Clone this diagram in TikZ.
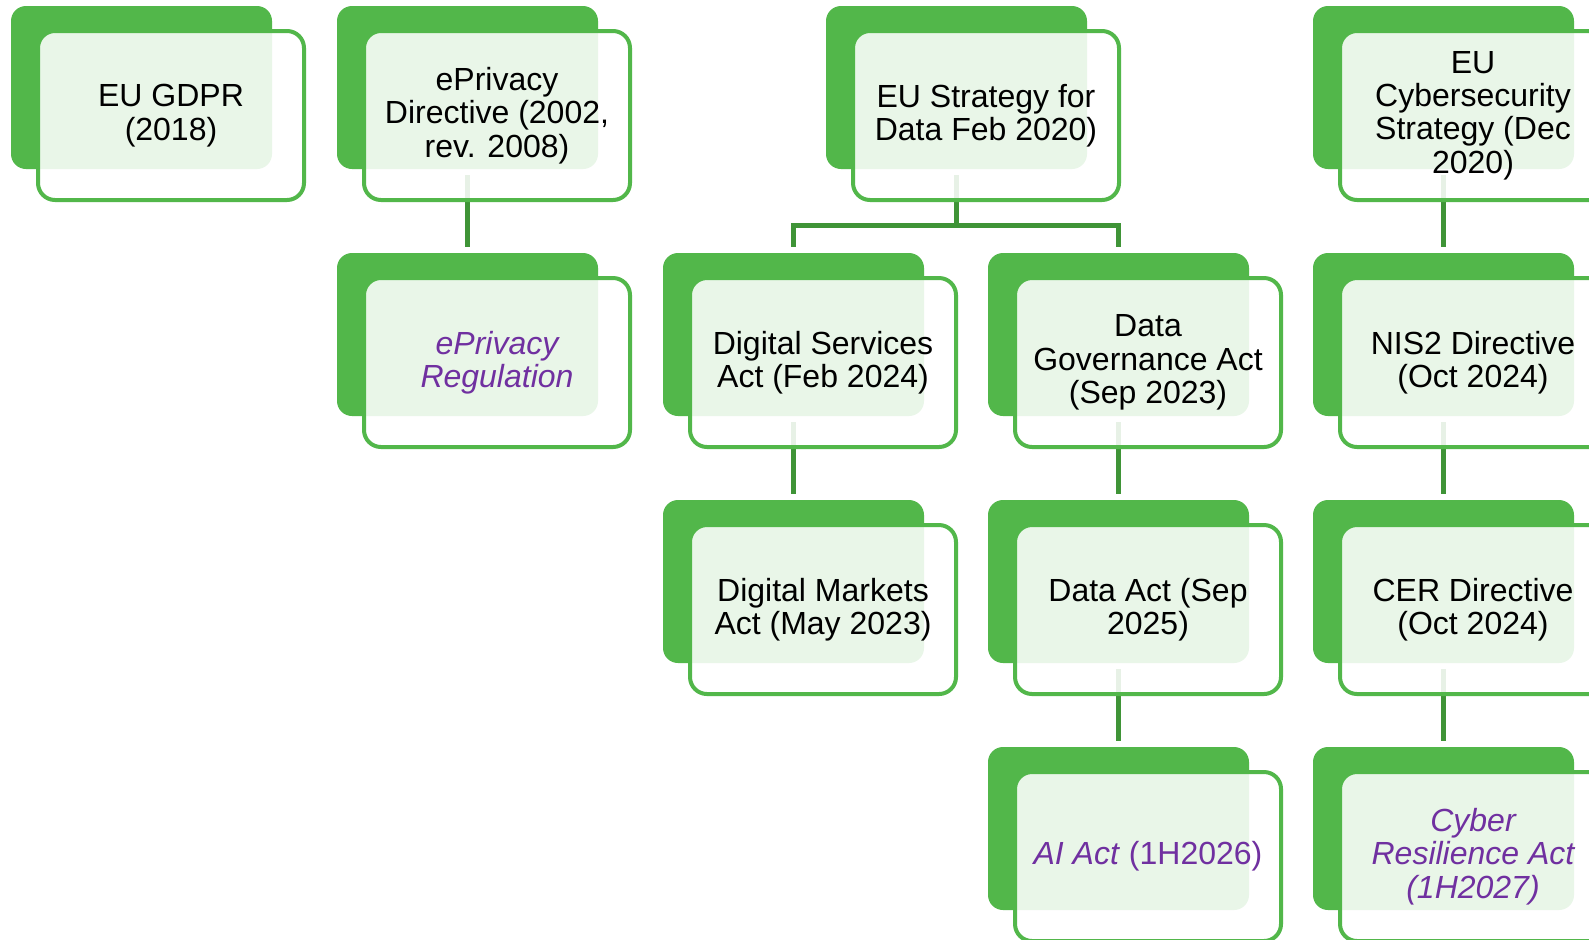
\documentclass[tikz,border=0pt]{standalone}
\usepackage{fontspec}
\setmainfont{Liberation Sans}
\usepackage{xcolor}
\usepackage{tikz}
\usetikzlibrary{positioning, calc}

\definecolor{cardgreen}{HTML}{52B74A}
\definecolor{linkgreen}{HTML}{3F9437}
\definecolor{plannedpurple}{HTML}{7030A0}

\begin{document}
\begin{tikzpicture}[
    x=0.5pt, y=-0.5pt,
    backcard/.style={rectangle, rounded corners=7.5pt, fill=cardgreen, outer sep=0pt,
                     minimum width=130.5pt, minimum height=81.5pt, anchor=north west},
    card/.style={rectangle, rounded corners=8.5pt, draw=cardgreen, line width=2pt,
                 fill=white, fill opacity=0.88, text opacity=1,
                 minimum width=133pt, minimum height=84.5pt, align=center,
                 font=\fontsize{16pt}{16.7pt}\selectfont},
    planned/.style={text=plannedpurple, font=\fontsize{16pt}{16.7pt}\selectfont\itshape},
    link/.style={draw=linkgreen, line width=2.5pt, shorten <=3pt, shorten >=3pt}
]
\clip (0,0) rectangle (1589,939);
\fill[white] (0,0) rectangle (1589,939);

% back cards
\foreach \nm/\x/\y in {gdpr/11/6, eprivdir/337/6, strat/826/6, cyber/1313/6,
                       eprivreg/337/253, dsa/663/253, dga/988/253, nis/1313/253,
                       dma/663/500, dact/988/500, cer/1313/500,
                       aiact/988/747, cra/1313/747} {
    \node[backcard] (\nm-bk) at (\x,\y) {};
}

% connectors, under the front cards
\draw[link] (eprivdir-bk.south) -- (eprivreg-bk.north);
\draw[link, shorten >=0pt] (strat-bk.south) -- ++(0,56) coordinate (split);
\draw[link, shorten <=0pt] (split) -| (dsa-bk.north);
\draw[link, shorten <=0pt] (split) -| (dga-bk.north);
\draw[link] (cyber-bk.south) -- (nis-bk.north);
\draw[link] (dsa-bk.south) -- (dma-bk.north);
\draw[link] (dga-bk.south) -- (dact-bk.north);
\draw[link] (dact-bk.south) -- (aiact-bk.north);
\draw[link] (nis-bk.south) -- (cer-bk.north);
\draw[link] (cer-bk.south) -- (cra-bk.north);

% front cards
\node[card, below right=11.5pt and 12.5pt of gdpr-bk.north west] (gdpr) {EU GDPR\\(2018)};
\node[card, below right=11.5pt and 12.5pt of eprivdir-bk.north west] (eprivdir) {ePrivacy\\Directive (2002,\\rev. 2008)};
\node[card, below right=11.5pt and 12.5pt of strat-bk.north west] (strat) {EU Strategy for\\Data Feb 2020)};
\node[card, below right=11.5pt and 12.5pt of cyber-bk.north west] (cyber) {EU\\Cybersecurity\\Strategy (Dec\\2020)};
\node[card, planned, below right=11.5pt and 12.5pt of eprivreg-bk.north west] (eprivreg) {ePrivacy\\Regulation};
\node[card, below right=11.5pt and 12.5pt of dsa-bk.north west] (dsa) {Digital Services\\Act (Feb 2024)};
\node[card, below right=11.5pt and 12.5pt of dga-bk.north west] (dga) {Data\\Governance Act\\(Sep 2023)};
\node[card, below right=11.5pt and 12.5pt of nis-bk.north west] (nis) {NIS2 Directive\\(Oct 2024)};
\node[card, below right=11.5pt and 12.5pt of dma-bk.north west] (dma) {Digital Markets\\Act (May 2023)};
\node[card, below right=11.5pt and 12.5pt of dact-bk.north west] (dact) {Data Act (Sep\\2025)};
\node[card, below right=11.5pt and 12.5pt of cer-bk.north west] (cer) {CER Directive\\(Oct 2024)};
\node[card, text=plannedpurple, below right=11.5pt and 12.5pt of aiact-bk.north west] (aiact) {\textit{AI Act} (1H2026)};
\node[card, planned, below right=11.5pt and 12.5pt of cra-bk.north west] (cra) {Cyber\\Resilience Act\\(1H2027)};
\end{tikzpicture}
\end{document}
